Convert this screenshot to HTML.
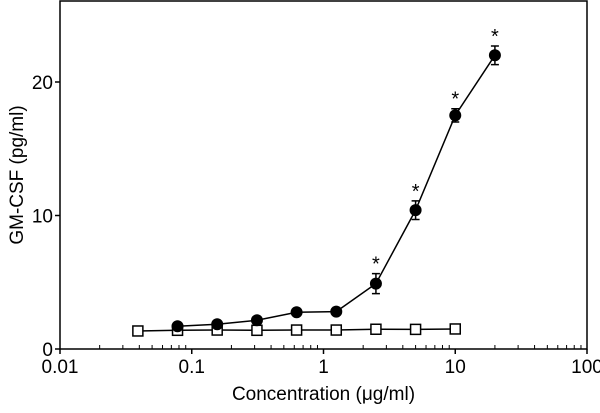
<!DOCTYPE html>
<html><head><meta charset="utf-8"><style>
body{margin:0;background:#fff;width:600px;height:408px;overflow:hidden}
text{font-family:"Liberation Sans",Arial,sans-serif;fill:#000}
</style></head><body>
<svg id="chart" width="600" height="408" xmlns="http://www.w3.org/2000/svg"></svg>
<script>
const filledX=[0.078,0.156,0.3125,0.625,1.25,2.5,5,10,20];
const filledY=[1.7,1.85,2.15,2.75,2.8,4.9,10.4,17.5,22.0];
const filledErr=[0,0,0,0,0,0.75,0.7,0.5,0.7];
const filledStar=[false,false,false,false,false,true,true,true,true];
const openX=[0.039,0.078,0.156,0.3125,0.625,1.25,2.5,5,10];
const openY=[1.35,1.4,1.42,1.4,1.42,1.42,1.48,1.47,1.5];
const xTicks=[0.01,0.1,1,10,100];
const xTickLabels=["0.01","0.1","1","10","100"];
const yTicks=[0,10,20];
const yTickLabels=["0","10","20"];
const L=60,R=587,T=1,B=349;
const sx=v=>L+(Math.log10(v)+2)/4*(R-L);
const sy=v=>B-v*(B-82)/20;
const svg=document.getElementById('chart');
const NS='http://www.w3.org/2000/svg';
function mk(tag,attrs,parent){const e=document.createElementNS(NS,tag);for(const k in attrs)e.setAttribute(k,attrs[k]);(parent||svg).appendChild(e);return e;}
const frame=mk('rect',{x:L,y:T,width:R-L,height:B-T,fill:'none',stroke:'#000','stroke-width':1.5});


yTicks.forEach((v,i)=>{
 const t=mk('line',{x1:L-5,x2:L,y1:sy(v),y2:sy(v),stroke:'#000','stroke-width':1.5});
 
 
 const tx=mk('text',{x:L-7,y:sy(v)+7,'text-anchor':'end','font-size':19});
 tx.textContent=yTickLabels[i];
 
 
});
xTicks.forEach((v,i)=>{
 const t=mk('line',{x1:sx(v),x2:sx(v),y1:B,y2:B+5,stroke:'#000','stroke-width':1.5});
 
 
 const tx=mk('text',{x:sx(v),y:B+24,'text-anchor':'middle','font-size':19});
 tx.textContent=xTickLabels[i];
 
 
 if(i<xTicks.length-1){for(let m=2;m<10;m++){
  const mt=mk('line',{x1:sx(v*m),x2:sx(v*m),y1:B,y2:B-4,stroke:'#000','stroke-width':1});
  
  
 }}
});
const xt=mk('text',{x:sx(1),y:400,'text-anchor':'middle','font-size':19});
xt.textContent='Concentration (\u03BCg/ml)';


const yt=mk('text',{x:0,y:0,'text-anchor':'middle','font-size':19,transform:`translate(23,${(T+B)/2}) rotate(-90)`});
yt.textContent='GM-CSF (pg/ml)';


const lo=mk('polyline',{points:openX.map((x,i)=>sx(x)+','+sy(openY[i])).join(' '),fill:'none',stroke:'#000','stroke-width':1.5});


const lf=mk('polyline',{points:filledX.map((x,i)=>sx(x)+','+sy(filledY[i])).join(' '),fill:'none',stroke:'#000','stroke-width':1.5});


openX.forEach((x,i)=>{
 const r=mk('rect',{x:sx(x)-5,y:sy(openY[i])-5,width:10,height:10,fill:'#fff',stroke:'#000','stroke-width':1.5});
 
 
});
filledX.forEach((x,i)=>{
 const cx=sx(x),cy=sy(filledY[i]);
 if(filledErr[i]>0){
  const e1=sy(filledY[i]+filledErr[i]),e2=sy(filledY[i]-filledErr[i]);
  const g=mk('path',{d:`M${cx},${e1}V${e2}M${cx-4},${e1}H${cx+4}M${cx-4},${e2}H${cx+4}`,stroke:'#000','stroke-width':1.5,fill:'none'});
  
  
 }
 const c=mk('circle',{cx:cx,cy:cy,r:6,fill:'#000'});
 
 
 if(filledStar[i]){
  const s=mk('text',{x:cx,y:sy(filledY[i]+filledErr[i])-3,'text-anchor':'middle','font-size':20});
  s.textContent='*';
  
  
 }
});
</script>
</body></html>
